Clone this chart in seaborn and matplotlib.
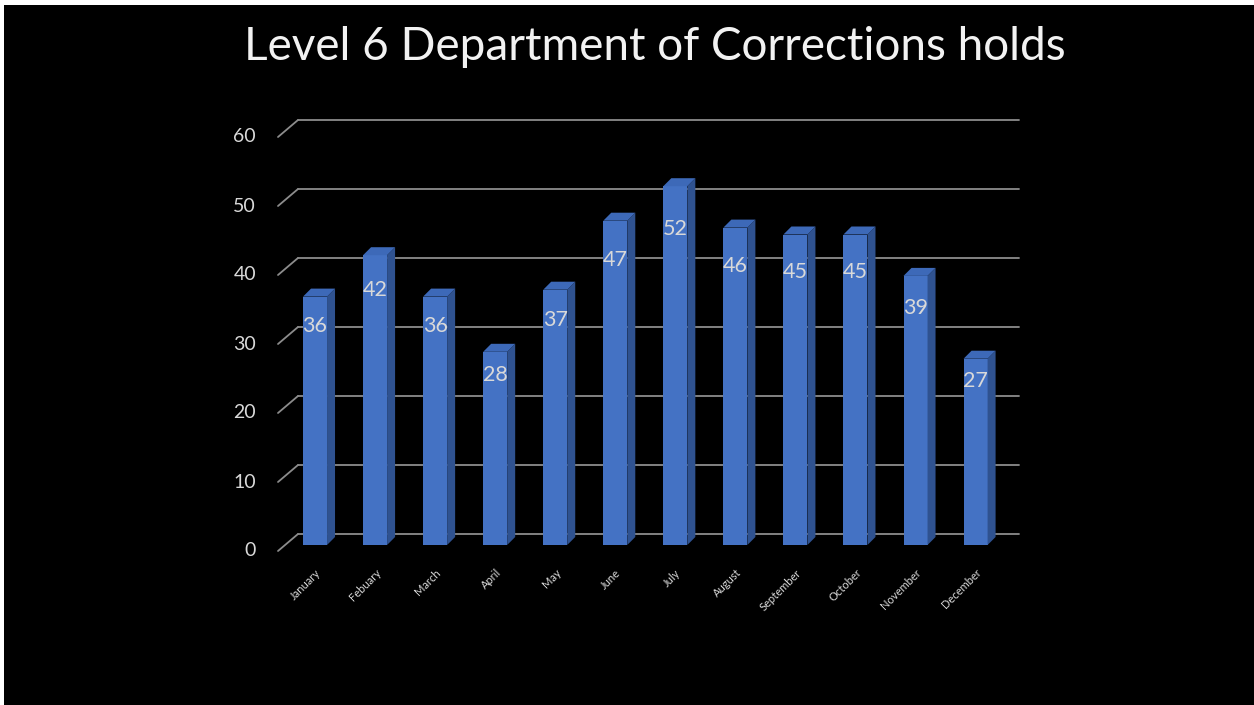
import pandas as pd
import matplotlib
matplotlib.use("Agg")
import matplotlib.pyplot as plt
import matplotlib.transforms as mtransforms
from matplotlib.patches import Polygon, Rectangle
import seaborn as sns

# Monthly holds
months = ['January', 'Febuary', 'March', 'April', 'May', 'June', 'July',
          'August', 'September', 'October', 'November', 'December']
holds = [36, 42, 36, 28, 37, 47, 52, 46, 45, 45, 39, 27]
y_ticks = [0, 10, 20, 30, 40, 50, 60]
title = 'Level 6 Department of Corrections holds'

front_color = '#4472C4'
side_color = '#2F5290'
top_color = '#3D69B8'
grid_color = '#8C8C8C'
text_color = '#D9D9D9'

df = pd.DataFrame({'Month': months, 'Holds': holds})

sns.set_theme(style='white')
plt.rcParams['font.family'] = ['Lato', 'DejaVu Sans']

W, H = 1254, 705
fig = plt.figure(figsize=(W / 100, H / 100), dpi=100, facecolor='white')
# black slide area (thin white strip on top and left like the screenshot)
fig.patches.append(Rectangle((4 / W, 0), 1, 700 / H, transform=fig.transFigure,
                             facecolor='black', edgecolor='none', zorder=-10))

ax = fig.add_axes([285 / W, 160 / H, 720.6 / W, 414 / H])
ax.set_facecolor('none')

sns.barplot(data=df, x='Month', y='Holds', color=front_color, saturation=1,
            width=0.4, linewidth=0, ax=ax, zorder=3)
ax.set_xlim(-0.5, 11.5)
ax.set_ylim(0, 60)
ax.set_xlabel('')
ax.set_ylabel('')
sns.despine(ax=ax, left=True, bottom=True, top=True, right=True)
ax.tick_params(axis='y', left=False, labelleft=False)
ax.tick_params(axis='x', bottom=False, pad=10, labelsize=8, labelcolor=text_color)
plt.setp(ax.get_xticklabels(), rotation=45, ha='right', rotation_mode='anchor')


def px_to_data(dx_px, dy_px):
    x0, y0 = ax.transData.transform((0, 0))
    xd, yd = ax.transData.inverted().transform((x0 + dx_px, y0 + dy_px))
    return xd, yd


# pseudo-3D: back wall (gridlines) and front floor edge
bdx, bdy = px_to_data(13, 11)
fdx, fdy = px_to_data(-7, -6)
xl, xr = ax.get_xlim()
for v in y_ticks:
    ax.plot([xl + bdx, xr + bdx], [v + bdy, v + bdy], color=grid_color,
            lw=1.3, zorder=0.5, clip_on=False)
    ax.plot([xl + fdx, xl + bdx], [v + fdy, v + bdy], color=grid_color,
            lw=1.3, zorder=0.5, clip_on=False)
    ax.text(xl + fdx, v + fdy, str(v), transform=mtransforms.offset_copy(
        ax.transData, fig=fig, x=-22, y=0, units='dots'),
        ha='right', va='center', fontsize=14, color=text_color, clip_on=False)

# bar side and top faces
ddx, ddy = px_to_data(8, 8)
for bar in ax.patches[:len(holds)]:
    x0 = bar.get_x()
    x1 = x0 + bar.get_width()
    h = bar.get_height()
    side = Polygon([(x1, 0), (x1 + ddx, ddy), (x1 + ddx, h + ddy), (x1, h)],
                   closed=True, facecolor=side_color, edgecolor='none',
                   zorder=3, clip_on=False)
    top = Polygon([(x0, h), (x0 + ddx, h + ddy), (x1 + ddx, h + ddy), (x1, h)],
                  closed=True, facecolor=top_color, edgecolor='none',
                  zorder=3, clip_on=False)
    ax.add_patch(side)
    ax.add_patch(top)
    ax.text(x0 + bar.get_width() / 2, h * 0.88, f'{h:.0f}', ha='center',
            va='center', fontsize=15.5, color=text_color, zorder=5)

fig.text(655 / W, 1 - 47 / H, title, ha='center', va='center',
         fontsize=33, color='#F2F2F2')

fig.savefig('out.png', dpi=100, facecolor=fig.get_facecolor())
